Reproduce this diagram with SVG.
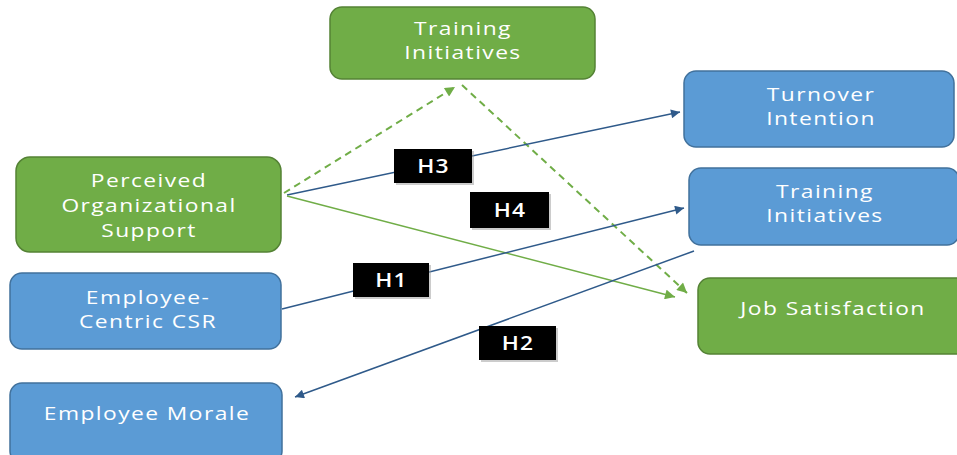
<svg xmlns="http://www.w3.org/2000/svg" width="957" height="455" viewBox="0 0 957 455">
<style>
.g{fill:#70AD47;stroke:#548235;stroke-width:1.5}
.b{fill:#5B9BD5;stroke:#41719C;stroke-width:1.5}
.t{font-family:"Open Sans","Liberation Sans",sans-serif;font-size:19px;fill:#fff;text-anchor:middle;letter-spacing:1.2px}
.lb{fill:#000}
.ls{fill:#999;opacity:0.5}
.lt{font-family:"Open Sans","Liberation Sans",sans-serif;font-size:19px;fill:#fff;text-anchor:middle;font-weight:600;letter-spacing:1px}
.cb{stroke:#2F5A8A;stroke-width:1.5;fill:none}
.cg{stroke:#70AD47;stroke-width:1.5;fill:none}
.cd{stroke:#70AD47;stroke-width:2;fill:none;stroke-dasharray:7 5}
</style>
<defs>
<marker id="ab" viewBox="0 0 10 10" refX="10" refY="5" markerWidth="11" markerHeight="9" markerUnits="userSpaceOnUse" orient="auto"><path d="M0,0 L10,5 L0,10 z" fill="#2F5A8A"/></marker>
<marker id="ag" viewBox="0 0 10 10" refX="10" refY="5" markerWidth="12" markerHeight="10" markerUnits="userSpaceOnUse" orient="auto"><path d="M0,0 L10,5 L0,10 z" fill="#70AD47"/></marker>
</defs>
<rect width="957" height="455" fill="#fff"/>
<g id="n-training-top"><rect class="g" x="330" y="7" width="265" height="72" rx="12"/><text class="t" transform="translate(463,35) scale(1.2,1)">Training</text><text class="t" transform="translate(463,59) scale(1.2,1)">Initiatives</text></g>
<g id="n-turnover"><rect class="b" x="684" y="71" width="270" height="76" rx="12"/><text class="t" transform="translate(821,101) scale(1.2,1)">Turnover</text><text class="t" transform="translate(821,125) scale(1.2,1)">Intention</text></g>
<g id="n-training-right"><rect class="b" x="689" y="168" width="270" height="77" rx="12"/><text class="t" transform="translate(825,198) scale(1.2,1)">Training</text><text class="t" transform="translate(825,222) scale(1.2,1)">Initiatives</text></g>
<g id="n-job"><rect class="g" x="698" y="278" width="270" height="76" rx="12"/><text class="t" transform="translate(833,315) scale(1.2,1)">Job Satisfaction</text></g>
<g id="n-pos"><rect class="g" x="16" y="157" width="265" height="95" rx="14"/><text class="t" transform="translate(149,187) scale(1.2,1)">Perceived</text><text class="t" transform="translate(149,212) scale(1.2,1)">Organizational</text><text class="t" transform="translate(149,237) scale(1.2,1)">Support</text></g>
<g id="n-csr"><rect class="b" x="10" y="273" width="271" height="76" rx="12"/><text class="t" transform="translate(148,304) scale(1.2,1)">Employee-</text><text class="t" transform="translate(148,328) scale(1.2,1)">Centric CSR</text></g>
<g id="n-morale"><rect class="b" x="10" y="383" width="272" height="80" rx="12"/><text class="t" transform="translate(147,420) scale(1.2,1)">Employee Morale</text></g>
<g id="connectors">
<line class="cd" x1="284" y1="193" x2="455" y2="87" marker-end="url(#ag)"/>
<line class="cd" x1="462" y1="85" x2="687" y2="293" marker-end="url(#ag)"/>
<line class="cb" x1="287" y1="195" x2="680" y2="112" marker-end="url(#ab)"/>
<line class="cg" x1="287" y1="196" x2="675" y2="297" marker-end="url(#ag)"/>
<line class="cb" x1="282" y1="309" x2="684" y2="208" marker-end="url(#ab)"/>
<line class="cb" x1="694" y1="251" x2="295" y2="397" marker-end="url(#ab)"/>
</g>
<g id="l-h3"><rect class="ls" x="396" y="151" width="78" height="34"/><rect class="lb" x="394" y="149" width="78" height="34"/><text class="lt" transform="translate(433.5,173) scale(1.2,1)">H3</text></g>
<g id="l-h4"><rect class="ls" x="472" y="194" width="79" height="36"/><rect class="lb" x="470" y="192" width="79" height="36"/><text class="lt" transform="translate(510,217) scale(1.2,1)">H4</text></g>
<g id="l-h1"><rect class="ls" x="355" y="265" width="76" height="34"/><rect class="lb" x="353" y="263" width="76" height="34"/><text class="lt" transform="translate(391.5,287) scale(1.2,1)">H1</text></g>
<g id="l-h2"><rect class="ls" x="481" y="328" width="77" height="34"/><rect class="lb" x="479" y="326" width="77" height="34"/><text class="lt" transform="translate(518,350) scale(1.2,1)">H2</text></g>
</svg>
